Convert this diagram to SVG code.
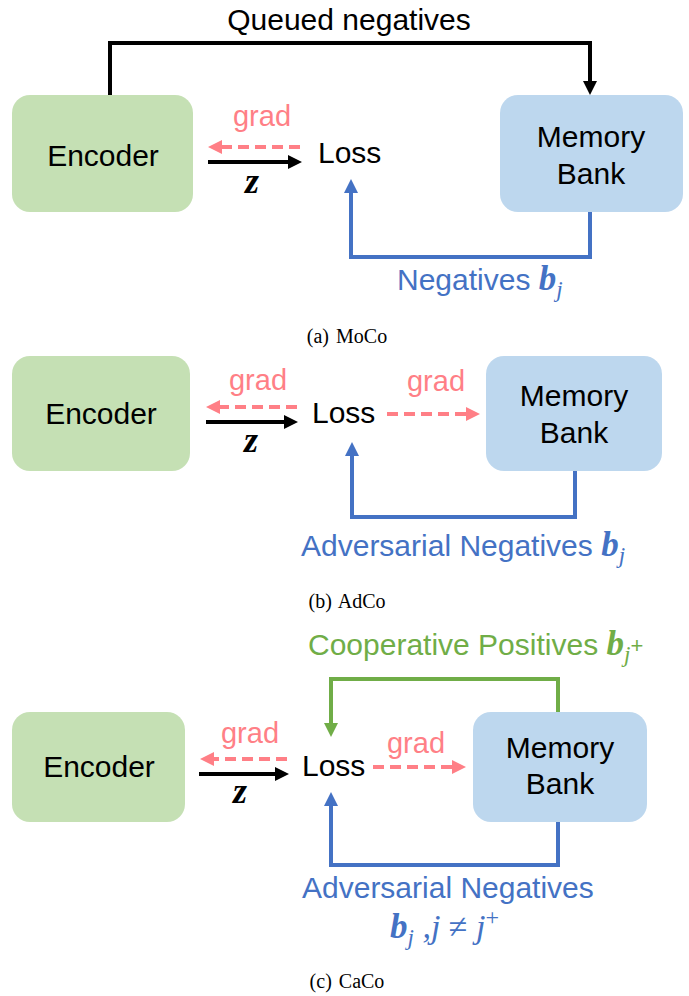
<svg xmlns="http://www.w3.org/2000/svg" width="689" height="996" viewBox="0 0 689 996">
<style>
.lbl{font-family:"Liberation Sans",Arial,sans-serif;font-size:30px;fill:#000}
.grad{font-family:"Liberation Sans",Arial,sans-serif;font-size:29px;fill:#ff7f86;text-anchor:middle}
.mid{text-anchor:middle}
.enc{fill:#c5e0b4}
.mem{fill:#bdd7ee}
.cap{font-family:"Liberation Serif","Times New Roman",serif;font-size:20px;fill:#000;text-anchor:middle;word-spacing:2px}
.math{font-family:"Liberation Serif","Times New Roman",serif;font-style:italic}
.bold{font-weight:bold}
.blk{fill:none;stroke:#000;stroke-width:4}
.pk{fill:none;stroke:#ff7f86;stroke-width:4;stroke-dasharray:11 6}
.bl{fill:none;stroke:#4472c4;stroke-width:4}
.gr{fill:none;stroke:#70ad47;stroke-width:4}
.btxt{fill:#4472c4}
.gtxt{fill:#70ad47}
</style>
<defs>
<marker id="ak" markerUnits="userSpaceOnUse" markerWidth="16" markerHeight="16" refX="3" refY="7" orient="auto"><path d="M0,0 L14,7 L0,14 z" fill="#000"/></marker>
<marker id="ap" markerUnits="userSpaceOnUse" markerWidth="16" markerHeight="16" refX="3" refY="7" orient="auto"><path d="M0,0 L14,7 L0,14 z" fill="#ff7f86"/></marker>
<marker id="ab" markerUnits="userSpaceOnUse" markerWidth="16" markerHeight="16" refX="3" refY="7" orient="auto"><path d="M0,0 L14,7 L0,14 z" fill="#4472c4"/></marker>
<marker id="ag" markerUnits="userSpaceOnUse" markerWidth="16" markerHeight="16" refX="3" refY="7" orient="auto"><path d="M0,0 L14,7 L0,14 z" fill="#70ad47"/></marker>
</defs>

<!-- Panel (a) MoCo -->
<g id="a-encoder"><rect class="enc" x="12" y="95" width="181" height="117" rx="18"/><text class="lbl mid" x="103" y="166">Encoder</text></g>
<g id="a-memory"><rect class="mem" x="500" y="95" width="183" height="117" rx="18"/><text class="lbl mid" x="591" y="147">Memory</text><text class="lbl mid" x="591" y="184">Bank</text></g>
<g id="a-loss"><text class="lbl" x="318" y="163">Loss</text></g>
<g id="a-connectors">
<path class="blk" d="M110,95 V43 H590 V84" marker-end="url(#ak)"/>
<path class="pk" d="M300,147 H219" marker-end="url(#ap)"/>
<path class="blk" d="M208,162 H291" marker-end="url(#ak)"/>
<path class="bl" d="M590,212 V257 H351 V190" marker-end="url(#ab)"/>
</g>
<text class="lbl mid" x="349" y="30">Queued negatives</text>
<text class="grad" x="262" y="126">grad</text>
<text class="math bold mid" x="252" y="193" font-size="36">z</text>
<text class="lbl btxt" x="397" y="290">Negatives <tspan class="math bold" font-size="35">b</tspan><tspan class="math" font-size="23" dy="7">j</tspan></text>
<text class="cap" x="347" y="343">(a) MoCo</text>

<!-- Panel (b) AdCo -->
<g id="b-encoder"><rect class="enc" x="12" y="356" width="178" height="115" rx="18"/><text class="lbl mid" x="101" y="424">Encoder</text></g>
<g id="b-memory"><rect class="mem" x="486" y="356" width="176" height="115" rx="18"/><text class="lbl mid" x="574" y="406">Memory</text><text class="lbl mid" x="574" y="443">Bank</text></g>
<g id="b-loss"><text class="lbl" x="312" y="423">Loss</text></g>
<g id="b-connectors">
<path class="pk" d="M297,407 H217" marker-end="url(#ap)"/>
<path class="blk" d="M206,422 H287" marker-end="url(#ak)"/>
<path class="pk" d="M387,414 H469" marker-end="url(#ap)"/>
<path class="bl" d="M575,471 V517 H352 V453" marker-end="url(#ab)"/>
</g>
<text class="grad" x="258" y="390">grad</text>
<text class="grad" x="436" y="391">grad</text>
<text class="math bold mid" x="251" y="452" font-size="36">z</text>
<text class="lbl btxt" x="301" y="556">Adversarial Negatives <tspan class="math bold" font-size="35">b</tspan><tspan class="math" font-size="23" dy="7">j</tspan></text>
<text class="cap" x="347" y="608">(b) AdCo</text>

<!-- Panel (c) CaCo -->
<g id="c-encoder"><rect class="enc" x="12" y="712" width="173" height="110" rx="18"/><text class="lbl mid" x="99" y="777">Encoder</text></g>
<g id="c-memory"><rect class="mem" x="473" y="712" width="174" height="110" rx="18"/><text class="lbl mid" x="560" y="758">Memory</text><text class="lbl mid" x="560" y="794">Bank</text></g>
<g id="c-loss"><text class="lbl" x="302" y="776">Loss</text></g>
<g id="c-connectors">
<path class="pk" d="M287,759 H211" marker-end="url(#ap)"/>
<path class="blk" d="M199,774 H278" marker-end="url(#ak)"/>
<path class="pk" d="M373,767 H455" marker-end="url(#ap)"/>
<path class="gr" d="M558,712 V679 H331 V726" marker-end="url(#ag)"/>
<path class="bl" d="M558,822 V865 H331 V803" marker-end="url(#ab)"/>
</g>
<text class="grad" x="250" y="743">grad</text>
<text class="grad" x="416" y="753">grad</text>
<text class="math bold mid" x="240" y="803" font-size="36">z</text>
<text class="lbl gtxt" x="308" y="655">Cooperative Positives <tspan class="math bold" font-size="35">b</tspan><tspan class="math" font-size="23" dy="7">j</tspan><tspan font-size="22" dy="-9">+</tspan></text>
<text class="lbl btxt" x="302" y="898">Adversarial Negatives</text>
<text class="math btxt" x="390" y="938" font-size="34"><tspan class="bold" font-size="35">b</tspan><tspan font-size="23" dy="7">j</tspan><tspan dy="-7"> ,</tspan><tspan>j</tspan><tspan font-style="normal"> ≠ </tspan><tspan>j</tspan><tspan font-style="normal" font-size="24" dy="-13">+</tspan></text>
<text class="cap" x="347" y="988">(c) CaCo</text>
</svg>
